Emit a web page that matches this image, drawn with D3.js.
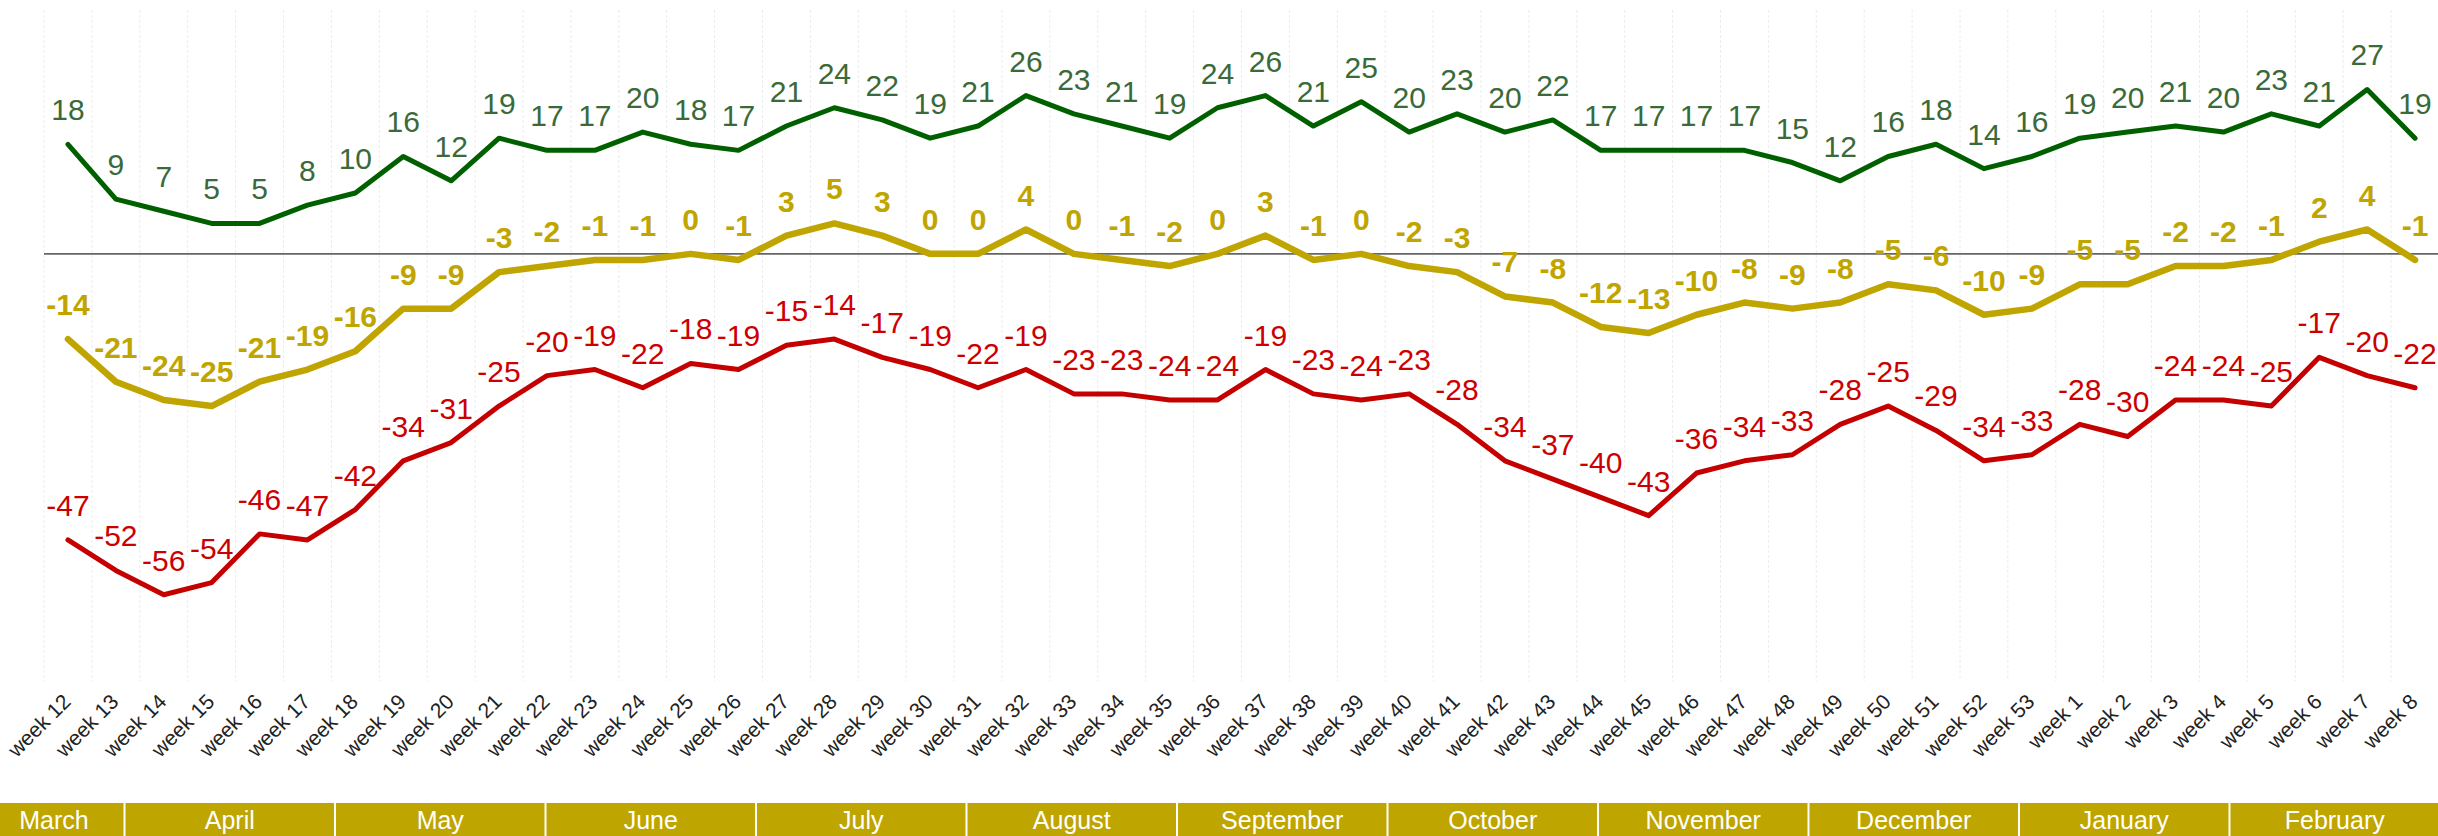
<!DOCTYPE html>
<html lang="en">
    <head>
        <meta charset="UTF-8">
        <script src="https://d3js.org/d3.v7.min.js"></script>
        <style>
            body { margin: 0; background: #fff; overflow: hidden; }
            svg { display: block; font-family: "Liberation Sans", Arial, sans-serif; }

            /* faint vertical grid */
            .grid line { stroke: #ececec; stroke-width: 1; stroke-dasharray: 3,2; }

            .zero { stroke: #666; stroke-width: 1.6; }

            .line { fill: none; stroke-linejoin: round; stroke-linecap: round; }

            .week-label { font-size: 21px; fill: #222; }
            .month-label { font-size: 25px; fill: #fff; }
        </style>
    </head>
    <body>
        <svg width="2438" height="836"></svg>

        <script>
            // week categories (x axis)
            const weeks = [
                "week 12", "week 13", "week 14", "week 15", "week 16", "week 17", "week 18", "week 19",
                "week 20", "week 21", "week 22", "week 23", "week 24", "week 25", "week 26", "week 27",
                "week 28", "week 29", "week 30", "week 31", "week 32", "week 33", "week 34", "week 35",
                "week 36", "week 37", "week 38", "week 39", "week 40", "week 41", "week 42", "week 43",
                "week 44", "week 45", "week 46", "week 47", "week 48", "week 49", "week 50", "week 51",
                "week 52", "week 53", "week 1", "week 2", "week 3", "week 4", "week 5", "week 6",
                "week 7", "week 8"
            ];

            // green series (top)
            const positive = [
                18, 9, 7, 5, 5, 8, 10, 16, 12, 19, 17, 17, 20, 18, 17, 21, 24, 22, 19, 21,
                26, 23, 21, 19, 24, 26, 21, 25, 20, 23, 20, 22, 17, 17, 17, 17, 15, 12, 16, 18,
                14, 16, 19, 20, 21, 20, 23, 21, 27, 19
            ];

            // yellow series (middle)
            const balance = [
                -14, -21, -24, -25, -21, -19, -16, -9, -9, -3, -2, -1, -1, 0, -1, 3, 5, 3, 0, 0,
                4, 0, -1, -2, 0, 3, -1, 0, -2, -3, -7, -8, -12, -13, -10, -8, -9, -8, -5, -6,
                -10, -9, -5, -5, -2, -2, -1, 2, 4, -1
            ];

            // red series (bottom)
            const negative = [
                -47, -52, -56, -54, -46, -47, -42, -34, -31, -25, -20, -19, -22, -18, -19, -15, -14, -17, -19, -22,
                -19, -23, -23, -24, -24, -19, -23, -24, -23, -28, -34, -37, -40, -43, -36, -34, -33, -28, -25, -29,
                -34, -33, -28, -30, -24, -24, -25, -17, -20, -22
            ];

            // month band under the axis (March is only partly shown)
            const months = [
                "March", "April", "May", "June", "July", "August", "September",
                "October", "November", "December", "January", "February"
            ];
            const firstMonthShown = 0.33;

            const svg = d3.select("svg");
            const W = 2438;

            // scales
            const x = d3.scaleBand()
                .domain(weeks)
                .range([44, 2439]);
            const cx = d => x(d) + x.bandwidth() / 2;

            const y = d3.scaleLinear()
                .domain([-70, 41.7])
                .range([680, 0]);

            const monthX = d3.scaleLinear()
                .domain([0, 12])
                .range([-86, 2440]);

            // vertical grid lines on band edges
            svg.append("g")
                .attr("class", "grid")
                .selectAll("line")
                .data(weeks)
                .join("line")
                .attr("x1", d => x(d))
                .attr("x2", d => x(d))
                .attr("y1", 10)
                .attr("y2", 681);

            // zero line
            svg.append("line")
                .attr("class", "zero")
                .attr("x1", x.range()[0])
                .attr("x2", W)
                .attr("y1", y(0))
                .attr("y2", y(0));

            // series styles
            const series = [
                { values: positive, line: "#006000", label: "#3a6a3a", width: 5, weight: "normal", size: 30 },
                { values: balance, line: "#c0a500", label: "#c0a500", width: 6.5, weight: "bold", size: 30 },
                { values: negative, line: "#c40000", label: "#cc0000", width: 5, weight: "normal", size: 30 }
            ];

            const line = d3.line()
                .x((d, i) => cx(weeks[i]))
                .y(d => y(d));

            series.forEach(s => {
                svg.append("path")
                    .datum(s.values)
                    .attr("class", "line")
                    .attr("stroke", s.line)
                    .attr("stroke-width", s.width)
                    .attr("d", line);
            });

            // value labels above each point
            series.forEach(s => {
                svg.append("g")
                    .selectAll("text")
                    .data(s.values)
                    .join("text")
                    .attr("x", (d, i) => cx(weeks[i]))
                    .attr("y", d => y(d) - 24)
                    .attr("text-anchor", "middle")
                    .attr("fill", s.label)
                    .attr("font-size", s.size)
                    .attr("font-weight", s.weight)
                    .text(d => d);
            });

            // rotated week labels
            svg.append("g")
                .selectAll("text")
                .data(weeks)
                .join("text")
                .attr("class", "week-label")
                .attr("text-anchor", "end")
                .attr("transform", d => `translate(${cx(d) + 4},703) rotate(-45)`)
                .text(d => d);

            // month band
            const monthG = svg.append("g")
                .selectAll("g")
                .data(months)
                .join("g");

            const mStart = i => monthX(i === 0 ? firstMonthShown : i);

            monthG.append("rect")
                .attr("x", (d, i) => mStart(i) + 1)
                .attr("y", 803)
                .attr("width", (d, i) => monthX(i + 1) - mStart(i) - 2)
                .attr("height", 33)
                .attr("fill", "#bea500");

            monthG.append("text")
                .attr("class", "month-label")
                .attr("x", (d, i) => (mStart(i) + monthX(i + 1)) / 2)
                .attr("y", 829)
                .attr("text-anchor", "middle")
                .text(d => d);
        </script>
    </body>
</html>
